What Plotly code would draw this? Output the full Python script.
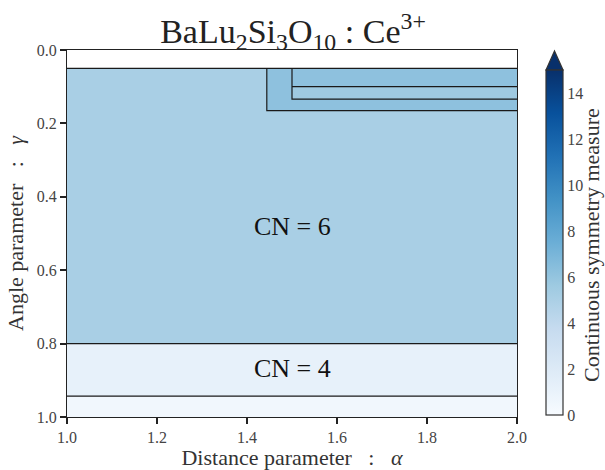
import plotly.graph_objects as go

# ---- data ----
alpha_edges = [1.0, 1.444, 1.5, 2.0]
gamma_edges = [0.0, 0.05, 0.10, 0.134, 0.165, 0.80, 0.943, 1.0]
# rows follow gamma_edges bands, columns follow alpha_edges bands
csm_values = [
    [None, None, None],   # 0.000 - 0.050 (no data)
    [5.1, 6.2, 6.2],      # 0.050 - 0.100
    [5.1, 6.2, 5.6],      # 0.100 - 0.134
    [5.1, 6.2, 6.2],      # 0.134 - 0.165
    [5.1, 5.1, 5.1],      # 0.165 - 0.800  (CN = 6)
    [1.2, 1.2, 1.2],      # 0.800 - 0.943  (CN = 4)
    [0.45, 0.45, 0.45],   # 0.943 - 1.000
]
# region boundary segments (alpha list, gamma list), None separates segments
boundary_alpha = [1.0, 2.0, None, 1.0, 2.0, None, 1.0, 2.0, None,
                  1.444, 1.444, 2.0, None, 1.5, 1.5, 2.0, None, 1.5, 2.0]
boundary_gamma = [0.05, 0.05, None, 0.80, 0.80, None, 0.943, 0.943, None,
                  0.05, 0.165, 0.165, None, 0.05, 0.134, 0.134, None, 0.10, 0.10]
label_text = ["CN = 6", "CN = 4"]
label_alpha = [1.5, 1.5]
label_gamma = [0.48, 0.868]
cbar_ticks = [0, 2, 4, 6, 8, 10, 12, 14]
x_ticks = [1.0, 1.2, 1.4, 1.6, 1.8, 2.0]
y_ticks = [0.0, 0.2, 0.4, 0.6, 0.8, 1.0]

blues = ['#f7fbff', '#deebf7', '#c6dbef', '#9ecae1', '#6baed6',
         '#4292c6', '#2171b5', '#08519c', '#08306b']
colorscale = [[i / (len(blues) - 1), c] for i, c in enumerate(blues)]

FONT = "Liberation Serif, Times New Roman, serif"
W, H = 605, 470
ML, MR, MT, MB = 67, 88, 50, 53
PW, PH = W - ML - MR, H - MT - MB
SP = "&nbsp;" * 3

def px2paper(px, py):
    return (px - ML) / PW, (MT + PH - py) / PH

fig = go.Figure()
fig.add_trace(go.Heatmap(
    x=alpha_edges, y=gamma_edges, z=csm_values,
    colorscale=colorscale, zmin=0, zmax=15, hoverongaps=False,
    colorbar=dict(
        thickness=17, lenmode="pixels", len=345,
        x=(546 - ML) / PW, xanchor="left", xpad=0,
        y=(MT + PH - 415) / PH, yanchor="bottom", ypad=0,
        outlinewidth=1.2, outlinecolor="#333",
        tickvals=cbar_ticks, ticks="",
        tickfont=dict(family=FONT, size=16, color="#444"),
    ),
))
fig.add_trace(go.Scatter(
    x=boundary_alpha, y=boundary_gamma, mode="lines",
    line=dict(color="#1a1a1a", width=1.2), connectgaps=False,
    hoverinfo="skip", showlegend=False,
))
for t, a, g in zip(label_text, label_alpha, label_gamma):
    fig.add_annotation(x=a, y=g, text=t, showarrow=False,
                       font=dict(family=FONT, size=26, color="#111"))

# colorbar title as rotated annotation (avoids margin push)
tx, ty = px2paper(591, 245)
fig.add_annotation(x=tx, y=ty, xref="paper", yref="paper",
                   text="Continuous symmetry measure", textangle=-90,
                   showarrow=False, xanchor="center", yanchor="middle",
                   font=dict(family=FONT, size=22, color="#333"))

# colorbar extension arrow (top)
x0, y0 = px2paper(546, 70)
x1, _ = px2paper(563, 70)
xm, yt = px2paper(554.5, 51)
fig.add_shape(type="path", xref="paper", yref="paper",
              path=f"M {x0},{y0} L {xm},{yt} L {x1},{y0} Z",
              fillcolor="#08306b", line=dict(color="#333", width=1.2))

axis_common = dict(
    showgrid=False, zeroline=False, showline=True, linecolor="#222",
    linewidth=1.3, mirror=True, ticks="outside", ticklen=6, tickwidth=2,
    tickcolor="#222", tickfont=dict(family=FONT, size=16, color="#444"),
    automargin=False,
)
fig.update_xaxes(range=[1.0, 2.0], tickvals=x_ticks, tickformat=".1f",
                 title=dict(text=f"Distance parameter{SP}:{SP}<i>α</i>",
                            font=dict(family=FONT, size=22, color="#333"),
                            standoff=4),
                 **axis_common)
fig.update_yaxes(range=[1.0, 0.0], tickvals=y_ticks, tickformat=".1f",
                 title=dict(text=f"Angle parameter{SP}:{SP}<i>γ</i>",
                            font=dict(family=FONT, size=22, color="#333"),
                            standoff=6),
                 **axis_common)
fig.update_layout(
    width=W, height=H,
    font=dict(family=FONT, color="#333"),
    margin=dict(l=ML, r=MR, t=MT, b=MB, autoexpand=False),
    plot_bgcolor="white", paper_bgcolor="white",
    title=dict(text="BaLu<sub>2</sub>Si<sub>3</sub>O<sub>10</sub> : Ce<sup>3+</sup>",
               x=293 / W, xanchor="center", y=1 - 31 / H, yanchor="middle",
               font=dict(family=FONT, size=34, color="#222")),
)
fig.write_html("out.html")
